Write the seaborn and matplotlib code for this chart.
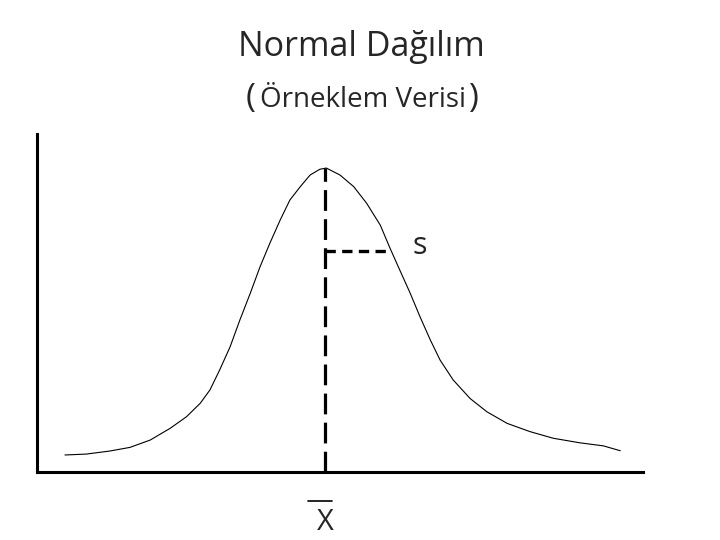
import numpy as np
import pandas as pd
import matplotlib
matplotlib.use("Agg")
import matplotlib.pyplot as plt
import seaborn as sns
from matplotlib.lines import Line2D

# curve (x in units of s from the mean, y relative to peak height)
curve_x = [-4.00, -3.67, -3.31, -3.00, -2.69, -2.38, -2.13, -1.92, -1.77, -1.62,
           -1.46, -1.31, -1.15, -1.00, -0.85, -0.69, -0.54, -0.38, -0.23, -0.08,
           0.02, 0.23, 0.44, 0.64, 0.85, 1.00, 1.15, 1.31, 1.46, 1.62,
           1.77, 1.97, 2.23, 2.49, 2.80, 3.15, 3.51, 3.92, 4.28, 4.54]
curve_y = [0.056, 0.059, 0.069, 0.081, 0.105, 0.144, 0.182, 0.226, 0.270, 0.336,
           0.412, 0.500, 0.588, 0.675, 0.752, 0.829, 0.895, 0.939, 0.977, 0.996,
           1.000, 0.977, 0.939, 0.884, 0.812, 0.736, 0.664, 0.588, 0.511, 0.434,
           0.368, 0.303, 0.242, 0.198, 0.160, 0.133, 0.111, 0.096, 0.086, 0.070]
mean_x = 0.0
s_value = 1.0
peak_height = 1.0
s_height = 0.728

title_line1 = "Normal Dağılım"
title_line2 = "Örneklem Verisi"
s_label = "s"
mean_label = "X"

sns.set_style("white")
plt.rcParams['font.family'] = ['Open Sans', 'DejaVu Sans']

fig = plt.figure(figsize=(7.2, 5.4), dpi=100)
ax = fig.add_axes([37 / 720, 68 / 540, 606 / 720, 338 / 540])

df = pd.DataFrame({'x': curve_x, 'y': curve_y})
sns.lineplot(data=df, x='x', y='y', sort=False, color='black', lw=0.8, ax=ax)

# mean line and s marker
ax.plot([mean_x, mean_x], [0, peak_height], color='black', lw=2.3,
        dashes=(6.5, 2.6))
ax.plot([mean_x, mean_x + s_value], [s_height, s_height], color='black', lw=2.4,
        dashes=(3.1, 1.9))

ax.set_xlim(-4.43, 4.89)
ax.set_ylim(0, 1.112)
ax.set_xticks([])
ax.set_yticks([])
ax.set_xlabel('')
ax.set_ylabel('')
for side in ['top', 'right']:
    ax.spines[side].set_visible(False)
for side in ['left', 'bottom']:
    ax.spines[side].set_linewidth(2.2)
    ax.spines[side].set_color('black')


def fy(py):
    return 1 - py / 540


fig.text(420 / 720, fy(254), s_label, fontsize=22, ha='center', va='baseline')

# x-bar label below the axis
fig.text(325 / 720, fy(530), mean_label, fontsize=21, ha='center', va='baseline')
fig.add_artist(Line2D([308 / 720, 332 / 720], [fy(501), fy(501)], color='black', lw=1.2))

# title, second line has larger brackets
fig.text(361 / 720, fy(56), title_line1, fontsize=24.5, ha='center', va='baseline')
fig.text(362.5 / 720, fy(107), title_line2, fontsize=20, ha='center', va='baseline')
fig.text(246 / 720, fy(107), "(", fontsize=24, ha='left', va='baseline')
fig.text(478 / 720, fy(107), ")", fontsize=24, ha='right', va='baseline')

fig.savefig('out.png', dpi=100, facecolor='white')
